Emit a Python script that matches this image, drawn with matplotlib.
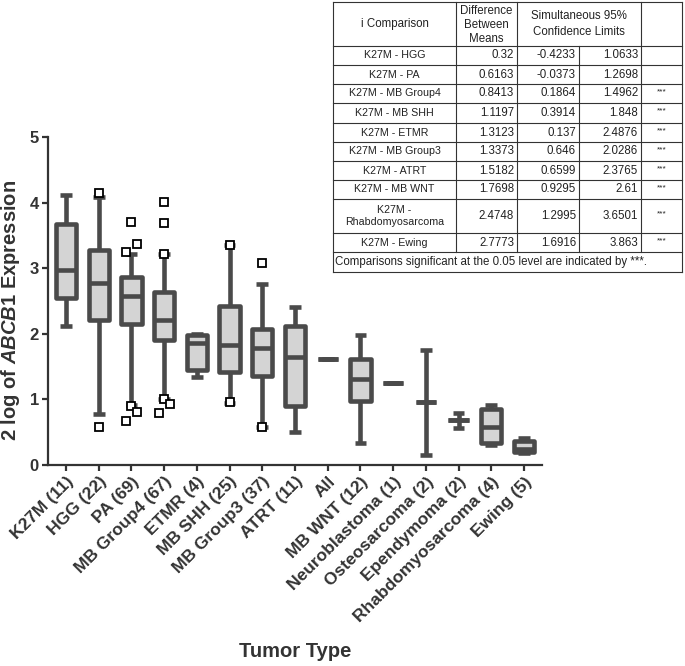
import matplotlib
matplotlib.use('Agg')
import matplotlib.pyplot as plt

plt.rcParams['font.family'] = ['Liberation Sans', 'DejaVu Sans']
plt.rcParams['mathtext.fontset'] = 'custom'
plt.rcParams['mathtext.it'] = 'Liberation Sans:italic:bold'
plt.rcParams['mathtext.rm'] = 'Liberation Sans:bold'

## box plot data
tumor_types = ['K27M (11)', 'HGG (22)', 'PA (69)', 'MB Group4 (67)', 'ETMR (4)',
               'MB SHH (25)', 'MB Group3 (37)', 'ATRT (11)', 'All', 'MB WNT (12)',
               'Neuroblastoma (1)', 'Osteosarcoma (2)', 'Ependymoma (2)',
               'Rhabdomyosarcoma (4)', 'Ewing (5)']
whis_lo = [2.12, 0.78, 0.91, 1.00, 1.34, 0.95, 0.58, 0.50, 1.62, 0.34, 1.25, 0.15, 0.56, 0.30, 0.18]
q1 = [2.54, 2.21, 2.15, 1.91, 1.45, 1.42, 1.35, 0.90, 1.62, 0.98, 1.25, 0.96, 0.68, 0.33, 0.20]
median = [2.97, 2.77, 2.57, 2.21, 1.86, 1.83, 1.78, 1.65, 1.62, 1.31, 1.25, 0.96, 0.68, 0.58, 0.25]
q3 = [3.68, 3.28, 2.86, 2.63, 1.98, 2.43, 2.07, 2.12, 1.62, 1.62, 1.25, 0.96, 0.68, 0.86, 0.37]
whis_hi = [4.12, 4.09, 3.22, 3.22, 2.00, 3.35, 2.76, 2.41, 1.62, 1.98, 1.25, 1.75, 0.79, 0.91, 0.41]
outliers = [[], [4.15, 0.58], [3.71, 3.37, 3.24, 0.90, 0.81, 0.67],
            [4.01, 3.69, 3.22, 1.00, 0.925, 0.79], [], [3.36, 0.96], [3.08, 0.58],
            [], [], [], [], [], [], [], []]
# horizontal dodge of outlier squares (GraphPad style)
flier_dodge = [[], [0, 0], [0, 0.17, -0.17, 0, 0.17, -0.17],
               [0, 0, 0, 0, 0.17, -0.17], [], [0, 0], [0, 0],
               [], [], [], [], [], [], [], []]

## table data
comparisons = ['K27M - HGG', 'K27M - PA', 'K27M - MB Group4', 'K27M - MB SHH',
               'K27M - ETMR', 'K27M - MB Group3', 'K27M - ATRT', 'K27M - MB WNT',
               'K27M -\nRhabdomyosarcoma', 'K27M - Ewing']
diff_means = ['0.32', '0.6163', '0.8413', '1.1197', '1.3123', '1.3373', '1.5182',
              '1.7698', '2.4748', '2.7773']
lower_cl = ['-0.4233', '-0.0373', '0.1864', '0.3914', '0.137', '0.646', '0.6599',
            '0.9295', '1.2995', '1.6916']
upper_cl = ['1.0633', '1.2698', '1.4962', '1.848', '2.4876', '2.0286', '2.3765',
            '2.61', '3.6501', '3.863']
signif = ['', '', '***', '***', '***', '***', '***', '***', '***', '***']

dark = '#4a4a4a'
txt = '#333333'
fig = plt.figure(figsize=(6.85, 6.66), dpi=100)
ax = fig.add_axes([48 / 685, 1 - 465 / 666, (542 - 48) / 685, (465 - 137) / 666])

stats = []
for i in range(len(tumor_types)):
    stats.append(dict(med=median[i], q1=q1[i], q3=q3[i], whislo=whis_lo[i],
                      whishi=whis_hi[i], fliers=[]))
ax.bxp(stats, positions=range(len(tumor_types)), widths=0.62, capwidths=0.36,
       patch_artist=True, showfliers=False,
       boxprops=dict(facecolor='#d4d4d4', edgecolor=dark, linewidth=3.3, joinstyle='round'),
       medianprops=dict(color=dark, linewidth=3.3, solid_capstyle='butt'),
       whiskerprops=dict(color=dark, linewidth=3.3, solid_capstyle='butt'),
       capprops=dict(color=dark, linewidth=3.3, solid_capstyle='butt'))

for i, vals in enumerate(outliers):
    for v, d in zip(vals, flier_dodge[i]):
        ax.plot(i + d, v, 's', ms=6, mfc='white', mec='black', mew=1.3, zorder=5)

ax.set_xlim(-0.55, len(tumor_types) - 0.45)
ax.set_ylim(0, 5)
ax.set_yticks(range(6))
ax.set_xticks(range(len(tumor_types)))
ax.set_xticklabels(tumor_types, rotation=45, ha='right', rotation_mode='anchor',
                   fontsize=12.5, fontweight='bold', color=txt)
for t in ax.get_yticklabels():
    t.set_fontsize(12)
    t.set_fontweight('bold')
    t.set_color(txt)
ax.tick_params(axis='both', width=1.6, length=4, color=txt, pad=2.5)
for s in ['top', 'right']:
    ax.spines[s].set_visible(False)
for s in ['left', 'bottom']:
    ax.spines[s].set_linewidth(1.6)
    ax.spines[s].set_color(txt)
ax.set_ylabel(r'2 log of $\mathit{ABCB1}$ Expression', fontsize=14.5,
              fontweight='bold', color=txt)
ax.yaxis.set_label_coords(-0.052, 0.47)
fig.text(295 / 685, 1 - 657 / 666, 'Tumor Type', ha='center', va='baseline',
         fontsize=14.5, fontweight='bold', color=txt)

## Tukey comparison table, drawn in pixel coordinates
tab = fig.add_axes([0, 0, 1, 1], facecolor='none')
tab.set_xlim(0, 685)
tab.set_ylim(666, 0)
tab.axis('off')
cx = [333, 456, 517, 579, 641, 682]
ry = [2, 46, 65, 84, 103, 123, 142, 161, 180, 199, 233, 252, 272]
lc = '#333333'
lw = 0.8
for y in ry:
    tab.plot([cx[0], cx[-1]], [y, y], color=lc, lw=lw)
for j, x in enumerate(cx):
    if j in (0, 5):
        tab.plot([x, x], [ry[0], ry[-1]], color=lc, lw=lw)
    elif j == 3:
        tab.plot([x, x], [ry[1], ry[-2]], color=lc, lw=lw)
    else:
        tab.plot([x, x], [ry[0], ry[-2]], color=lc, lw=lw)

fs = 8.3
tc = '#222222'
tab.text((cx[0] + cx[1]) / 2, (ry[0] + ry[1]) / 2, 'i Comparison', ha='center', va='center', fontsize=fs, color=tc)
tab.text((cx[1] + cx[2]) / 2, (ry[0] + ry[1]) / 2 + 1, 'Difference\nBetween\nMeans', ha='center', va='center',
         fontsize=fs, color=tc, linespacing=1.2)
tab.text((cx[2] + cx[4]) / 2, (ry[0] + ry[1]) / 2, 'Simultaneous 95%\nConfidence Limits', ha='center',
         va='center', fontsize=fs, color=tc, linespacing=1.35)
for k in range(len(comparisons)):
    ym = (ry[k + 1] + ry[k + 2]) / 2
    tab.text((cx[0] + cx[1]) / 2, ym, comparisons[k], ha='center', va='center', fontsize=7.7, color=tc,
             linespacing=1.35)
    tab.text(cx[2] - 3, ym, diff_means[k], ha='right', va='center', fontsize=fs, color=tc)
    tab.text(cx[3] - 3, ym, lower_cl[k], ha='right', va='center', fontsize=fs, color=tc)
    tab.text(cx[4] - 3, ym, upper_cl[k], ha='right', va='center', fontsize=fs, color=tc)
    tab.text((cx[4] + cx[5]) / 2, ym - 2, signif[k], ha='center', va='center', fontsize=6, color=tc)
tab.text(cx[0] + 2, (ry[-2] + ry[-1]) / 2, 'Comparisons significant at the 0.05 level are indicated by ***.',
         ha='left', va='center', fontsize=fs, color=tc)

fig.savefig('out.png', dpi=100)
